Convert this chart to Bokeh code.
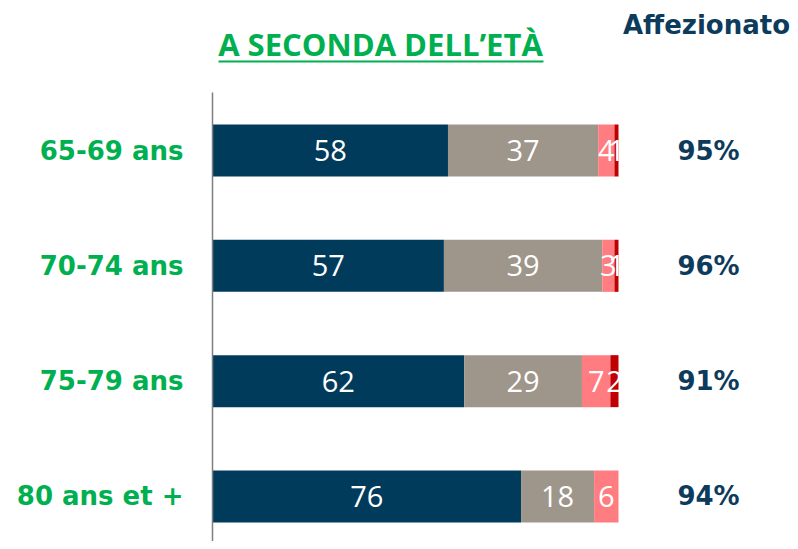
from bokeh.plotting import figure
from bokeh.models import Range1d, ColumnDataSource
from bokeh.core.properties import value
from bokeh.embed import file_html
from bokeh.resources import INLINE

categories = ["65-69 ans", "70-74 ans", "75-79 ans", "80 ans et +"]
s1 = [58, 57, 62, 76]
s2 = [37, 39, 29, 18]
s3 = [4, 3, 7, 6]
s4 = [1, 1, 2, 0]
totals = ["95%", "96%", "91%", "94%"]
colors = ["#003B5C", "#9E958B", "#FF7C80", "#C00000"]

title_text = "A SECONDA DELL\u2019ET\u00c0"
col_header = "Affezionato"

W, H = 790, 541
px_per_x = 4.06
x0 = -212 / px_per_x
x1 = x0 + W / px_per_x
px_per_y = 115.33
y1 = 3 + 150 / px_per_y
y0 = y1 - H / px_per_y


def px_y(py):
    return y1 - py / px_per_y


def px_x(px):
    return (px - 212) / px_per_x


p = figure(width=W, height=H, x_range=Range1d(x0, x1), y_range=Range1d(y0, y1),
           output_backend="svg", toolbar_location=None, min_border=0)
p.axis.visible = False
p.grid.visible = False
p.outline_line_color = None
p.background_fill_color = "white"
p.border_fill_color = "white"

n = len(categories)
ys = [n - 1 - i for i in range(n)]
series = [s1, s2, s3, s4]
left = [0] * n
lx, ly, lt = [], [], []
for k, s in enumerate(series):
    right = [l + v for l, v in zip(left, s)]
    src = ColumnDataSource(dict(y=ys, left=left, right=right))
    p.hbar(y="y", left="left", right="right", height=0.451, source=src,
           fill_color=colors[k], line_color=None)
    for i in range(n):
        if s[i] > 0:
            lx.append((left[i] + right[i]) / 2)
            ly.append(ys[i])
            lt.append(str(s[i]))
    left = right

p.text(x=lx, y=ly, text=lt, text_color="white", text_align="center",
       text_baseline="middle", text_font=value("Open Sans"), text_font_size="29px")

# vertical axis line
p.segment(x0=[0], y0=[y0], x1=[0], y1=[px_y(92)], line_color="#7f7f7f", line_width=1.5)

# category labels
p.text(x=[px_x(183)] * n, y=ys, text=categories, text_color="#00B050", text_align="right",
       text_baseline="middle", text_font=value("DejaVu Sans"), text_font_style="bold",
       text_font_size="26px")

# totals
p.text(x=[px_x(708)] * n, y=ys, text=totals, text_color="#0D3B5C", text_align="center",
       text_baseline="middle", text_font=value("DejaVu Sans"), text_font_style="bold",
       text_font_size="26px")

# column header
p.text(x=[px_x(706)], y=[px_y(24)], text=[col_header], text_color="#0D3B5C",
       text_align="center", text_baseline="middle", text_font=value("DejaVu Sans"),
       text_font_style="bold", text_font_size="26px")

# title with underline
p.text(x=[px_x(380)], y=[px_y(43)], text=[title_text],
       text_color="#00B050", text_align="center", text_baseline="middle",
       text_font=value("Open Sans"), text_font_style="bold", text_font_size="31px")
p.segment(x0=[px_x(218)], y0=[px_y(61)], x1=[px_x(543)], y1=[px_y(61)],
          line_color="#00B050", line_width=2)

open("out.html", "w").write(file_html(p, INLINE))
